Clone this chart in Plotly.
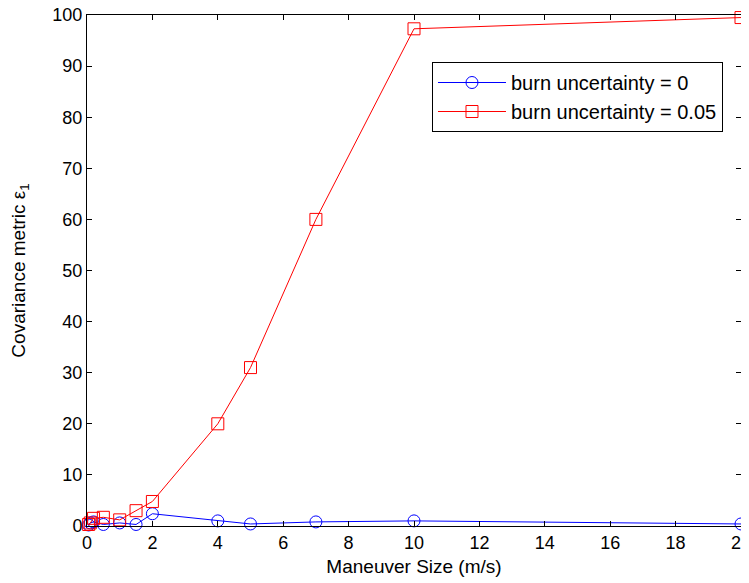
import plotly.graph_objects as go

x_vals = [0.05, 0.1, 0.2, 0.5, 1, 1.5, 2, 4, 5, 7, 10, 20]
y_burn0 = [0.2, 0.6, 0.8, 0.3, 0.6, 0.3, 2.4, 1.0, 0.4, 0.8, 1.0, 0.4]
y_burn005 = [0.3, 0.6, 1.5, 1.7, 1.2, 3.0, 4.8, 20.0, 31.0, 60.0, 97.3, 99.5]
x_ticks = list(range(0, 21, 2))
y_ticks = list(range(0, 101, 10))

fig = go.Figure()
fig.add_trace(go.Scatter(
    x=x_vals, y=y_burn0, mode="lines+markers", name="burn uncertainty = 0",
    line=dict(color="#0000ff", width=1),
    marker=dict(symbol="circle-open", size=12, color="#0000ff", line=dict(width=1)),
    cliponaxis=False))
fig.add_trace(go.Scatter(
    x=x_vals, y=y_burn005, mode="lines+markers", name="burn uncertainty = 0.05",
    line=dict(color="#ff0000", width=1),
    marker=dict(symbol="square-open", size=12, color="#ff0000", line=dict(width=1)),
    cliponaxis=False))

axis_common = dict(showgrid=False, zeroline=False, showline=True, linecolor="black",
                   linewidth=1, mirror="ticks", ticks="inside", ticklen=5,
                   tickcolor="black", tickfont=dict(size=18, color="black"),
                   automargin=False, ticklabeloverflow="allow")
fig.update_xaxes(range=[0, 20], tickvals=x_ticks,
                 title=dict(text="Maneuver Size (m/s)", font=dict(size=19, color="black"), standoff=8),
                 **axis_common)
fig.update_yaxes(range=[0, 100], tickvals=y_ticks,
                 title=dict(text="Covariance metric ε<sub>1</sub>", font=dict(size=19, color="black"), standoff=30),
                 **axis_common)

fig.update_layout(
    width=741, height=575,
    margin=dict(l=79, r=8, t=7, b=57),
    plot_bgcolor="white", paper_bgcolor="white",
    font=dict(family="Liberation Sans, Arial, sans-serif", size=18, color="black"),
    legend=dict(x=0.5275, y=0.908, xanchor="left", yanchor="top",
                bgcolor="white", bordercolor="black", borderwidth=1,
                font=dict(size=20), tracegroupgap=0, itemwidth=68),
    showlegend=True,
)

fig.write_html("out.html")
